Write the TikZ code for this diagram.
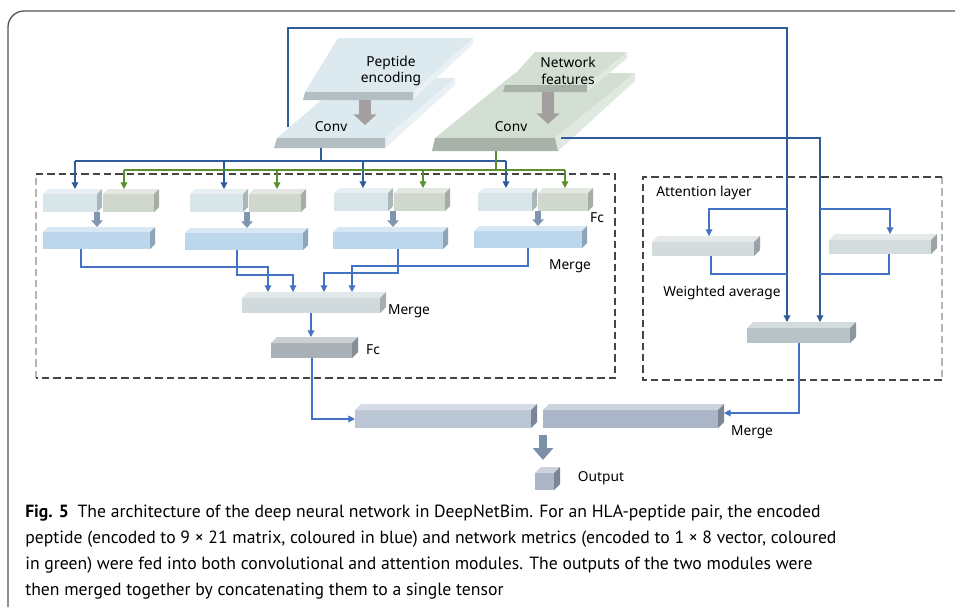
\documentclass[tikz,border=0pt]{standalone}
\usepackage{fontspec}
\setmainfont{Noto Sans}
\newfontfamily\capfont{PT Sans}
\usetikzlibrary{calc,arrows.meta,fit}
\definecolor{pepface}{HTML}{DCE9EE}
\definecolor{pepstrip}{HTML}{B3BEC3}
\definecolor{pepside}{HTML}{E9F1F4}
\definecolor{netface}{HTML}{D3DFD2}
\definecolor{netstrip}{HTML}{A9B2A8}
\definecolor{netside}{HTML}{E0E9DF}
\definecolor{bsmall}{HTML}{D8E5E9}
\definecolor{bsmallside}{HTML}{AAB6BA}
\definecolor{gsmall}{HTML}{D0D7CD}
\definecolor{gsmallside}{HTML}{A6ADA3}
\definecolor{bigblue}{HTML}{BCD6EC}
\definecolor{bigblueside}{HTML}{8DA4B9}
\definecolor{mface}{HTML}{D0D9DC}
\definecolor{mside}{HTML}{A4AEB1}
\definecolor{fcface}{HTML}{A9B0B6}
\definecolor{fcside}{HTML}{868D93}
\definecolor{attface}{HTML}{D4DBDC}
\definecolor{attside}{HTML}{9AA3A5}
\definecolor{waface}{HTML}{B7C3C7}
\definecolor{waside}{HTML}{8B979B}
\definecolor{mlface}{HTML}{BCC7D5}
\definecolor{mrface}{HTML}{AAB6C7}
\definecolor{mrside}{HTML}{7B8596}
\definecolor{darkblue}{HTML}{2F5B9A}
\definecolor{lineblue}{HTML}{4472C4}
\definecolor{linegreen}{HTML}{5A8F2E}
\definecolor{sarrow}{HTML}{8295B0}
\definecolor{garrow}{HTML}{A49F9F}
\definecolor{barrow}{HTML}{7D90A9}
\definecolor{frame}{HTML}{555555}
\definecolor{dashc}{HTML}{454545}
\definecolor{dashl}{HTML}{B5B5B5}
\newcommand\cuboid[8]{%
  \node[fit={(#2,#3) (#4,#5)}, inner sep=0pt, outer sep=0pt] (#1) {};
  \fill[#7] ($(#1.north west)+(0,#6)$) rectangle ($(#1.south east)+(-#6,0)$);
  \fill[#7!60!white] ($(#1.north west)+(0,#6)$) -- ($(#1.north west)+(#6,0)$) -- (#1.north east) -- ($(#1.north east)+(-#6,#6)$) -- cycle;
  \fill[#8] ($(#1.north east)+(-#6,#6)$) -- (#1.north east) -- ($(#1.south east)+(0,-#6)$) -- ($(#1.south east)+(-#6,0)$) -- cycle;
}
\begin{document}
\begin{tikzpicture}[x=0.75pt,y=-0.75pt,
  dk/.style={draw=darkblue,line width=0.95pt},
  dg/.style={draw=linegreen,line width=0.95pt},
  ln/.style={draw=lineblue,line width=0.85pt},
  tip/.style={-{Triangle[width=5pt,length=5pt]}},
  sarr/.style={draw=sarrow,line width=5.2pt,-{Triangle[width=8.5pt,length=5pt]}},
  garr/.style={draw=garrow,line width=9.5pt,-{Triangle[width=17pt,length=8pt]}},
  barr/.style={draw=barrow,line width=6.5pt,-{Triangle[width=15pt,length=9pt]}},
  lbl/.style={font=\fontsize{10.3pt}{11.5pt}\selectfont,inner sep=0pt},
  captxt/.style={font=\capfont\fontsize{13.25pt}{15pt}\selectfont,inner sep=0pt,anchor=base west},
  dbox/.style={draw=dashc,line width=1pt,dash pattern=on 5.5pt off 3pt},
  dboxl/.style={draw=dashl,line width=0.9pt,dash pattern=on 5.5pt off 3pt}]
\useasboundingbox (0,0) rectangle (955,607);
\fill[white] (0,0) rectangle (955,607);
% outer frame
\draw[frame,line width=1pt,rounded corners=12pt] (8,607) -- (8,11) -- (955,11);

% ---- top plates
% peptide lower
\fill[pepface] (277,138) -- (385,138) -- (455,78) -- (347,78) -- cycle;
\fill[pepside] (385,138) -- (455,78) -- (455,85) -- (385,148) -- cycle;
\fill[pepstrip] (277,138) -- (385,138) -- (385,148) -- (274,148) -- cycle;
% peptide upper
\fill[pepface] (305,92) -- (413,92) -- (473,38) -- (338,38) -- cycle;
\fill[pepside] (413,92) -- (473,38) -- (473,44) -- (413,100) -- cycle;
\fill[pepstrip] (305,92) -- (413,92) -- (413,100) -- (303,100) -- cycle;
% network lower
\fill[netface] (435,138) -- (555,138) -- (635,73) -- (515,73) -- cycle;
\fill[netside] (555,138) -- (635,73) -- (635,81) -- (558,151) -- cycle;
\fill[netstrip] (435,138) -- (555,138) -- (558,151) -- (432,151) -- cycle;
% network upper
\fill[netface] (505,85) -- (587,85) -- (627,52) -- (535,52) -- cycle;
\fill[netside] (587,85) -- (627,52) -- (627,58) -- (587,92) -- cycle;
\fill[netstrip] (505,85) -- (587,85) -- (587,92) -- (503,92) -- cycle;

\coordinate (pupB) at (365,100);
\coordinate (pcnvT) at (365,125);
\coordinate (nupB) at (548,92);
\coordinate (ncnvT) at (548,124);
\draw[garr] (pupB) -- (pcnvT);
\draw[garr] (nupB) -- (ncnvT);

\node[lbl,align=center] (tpep) at (391,71) {Peptide\\[1pt]encoding};
\node[lbl,align=center] (tnet) at (568,71) {Network\\[1pt]features};
\node[lbl] (tconv1) at (331,127) {Conv};
\node[lbl] (tconv2) at (511,127) {Conv};

% ---- dashed boxes
\draw[dboxl] (36,378) -- (36,174);
\draw[dbox] (36,174) -- (615,174) -- (615,378) -- (36,378);
\draw[dboxl] (942,177) -- (942,380);
\draw[dbox] (942,177) -- (643,177) -- (643,380) -- (942,380);

% ---- row 1
\cuboid{b1}{43}{189}{102}{212}{5}{bsmall}{bsmallside}
\cuboid{g1}{103}{189}{159}{212}{5}{gsmall}{gsmallside}
\cuboid{b2}{190}{189}{248}{212}{5}{bsmall}{bsmallside}
\cuboid{g2}{249}{189}{306}{212}{5}{gsmall}{gsmallside}
\cuboid{b3}{334}{188}{393}{211}{5}{bsmall}{bsmallside}
\cuboid{g3}{394}{188}{450}{211}{5}{gsmall}{gsmallside}
\cuboid{b4}{478}{188}{537}{211}{5}{bsmall}{bsmallside}
\cuboid{g4}{538}{188}{593}{211}{5}{gsmall}{gsmallside}
% ---- row 2
\cuboid{r1}{43}{227}{155}{249}{5}{bigblue}{bigblueside}
\cuboid{r2}{185}{228}{308}{250}{5}{bigblue}{bigblueside}
\cuboid{r3}{333}{227}{448}{249}{5}{bigblue}{bigblueside}
\cuboid{r4}{474}{226}{587}{248}{5}{bigblue}{bigblueside}
% ---- middle
\cuboid{m1}{242}{292}{386}{313}{6}{mface}{mside}
\cuboid{fc}{271}{337}{358}{358}{6}{fcface}{fcside}
% ---- attention
\cuboid{a1}{652}{236}{760}{256}{6}{attface}{attside}
\cuboid{a2}{829}{234}{937}{254}{6}{attface}{attside}
\cuboid{wa}{747}{322}{856}{343}{6}{waface}{waside}
% ---- bottom
\cuboid{ml}{355}{404}{537}{428}{6}{mlface}{mrside}
\cuboid{mr}{543}{404}{724}{428}{6}{mrface}{mrside}
\cuboid{out}{535}{467}{560}{490}{6}{mrface}{mrside}

% ---- labels
\node[lbl] (tfc1) at (597,218) {Fc};
\node[lbl] (tmg1) at (570,266) {Merge};
\node[lbl] (tmg2) at (409,311) {Merge};
\node[lbl] (tfc2) at (373,350) {Fc};
\node[lbl] (tatt) at (704,193) {Attention layer};
\node[lbl] (twa) at (722,293) {Weighted average};
\node[lbl] (tmg3) at (752,432) {Merge};
\node[lbl] (tout) at (601,478) {Output};

% ---- small arrows row1 -> row2
\foreach \n/\m/\x in {b1/r1/97,b2/r2/247,b3/r3/393,b4/r4/538}{
  \coordinate (sa) at (\x,212);
  \draw[sarr] (sa |- \n.south) -- (sa |- \m.north);
}

% ---- blue bus
\coordinate (pB) at (321,148);
\coordinate (busB) at (321,161);
\coordinate (busBL) at (75,161);
\coordinate (busBR) at (506,161);
\draw[dk] (pB) -- (busB);
\draw[dk] (busBL) -- (busBR);
\foreach \n/\x in {b1/75,b2/224,b3/363,b4/506}{
  \coordinate (bj) at (\x,161);
  \draw[dk,tip] (bj) -- (bj |- \n.north);
}
% ---- green bus
\coordinate (nB) at (496,151);
\coordinate (busG) at (496,170);
\coordinate (busGL) at (124,170);
\coordinate (busGR) at (565,170);
\draw[dg] (nB) -- (busG);
\draw[dg] (busGL) -- (busGR);
\foreach \n/\x in {g1/124,g2/277,g3/423,g4/565}{
  \coordinate (gj) at (\x,170);
  \draw[dg,tip] (gj) -- (gj |- \n.north);
}

% ---- row2 -> merge
\coordinate (c1a) at (81,267);  \coordinate (c1b) at (268,267);
\coordinate (c2a) at (237,275); \coordinate (c2b) at (293,275);
\coordinate (c3a) at (398,273); \coordinate (c3b) at (324,273);
\coordinate (c4a) at (528,266); \coordinate (c4b) at (352,266);
\draw[ln,tip] (c1a |- r1.south) -- (c1a) -- (c1b) -- (c1b |- m1.north);
\draw[ln,tip] (c2a |- r2.south) -- (c2a) -- (c2b) -- (c2b |- m1.north);
\draw[ln,tip] (c3a |- r3.south) -- (c3a) -- (c3b) -- (c3b |- m1.north);
\draw[ln,tip] (c4a |- r4.south) -- (c4a) -- (c4b) -- (c4b |- m1.north);
% merge -> fc
\coordinate (c5) at (311,320);
\draw[ln,tip] (c5 |- m1.south) -- (c5 |- fc.north);
% fc -> bottom merge
\coordinate (c6) at (312,419);
\draw[ln,tip] (c6 |- fc.south) -- (c6) -- (c6 -| ml.west);

% ---- attention paths
\coordinate (pL) at (288,127);
\coordinate (t1) at (288,28);
\coordinate (t2) at (787,28);
\draw[dk,tip] (pL) -- (t1) -- (t2) -- (t2 |- wa.north);
\coordinate (t3) at (787,209); \coordinate (t4) at (709,209);
\draw[ln,tip] (t3) -- (t4) -- (t4 |- a1.north);
\coordinate (t5) at (711,274);
\draw[ln] (t5 |- a1.south) -- (t5) -- (t5 -| t2);

\coordinate (nR) at (561,138);
\coordinate (u1) at (820,138);
\draw[dk,tip] (nR) -- (u1) -- (u1 |- wa.north);
\coordinate (u2) at (820,209); \coordinate (u3) at (890,209);
\draw[ln,tip] (u2) -- (u3) -- (u3 |- a2.north);
\coordinate (u4) at (889,274);
\draw[ln] (u4 |- a2.south) -- (u4) -- (u4 -| u1);

% weighted -> bottom merge
\coordinate (c7) at (799,413);
\draw[ln,tip] (c7 |- wa.south) -- (c7) -- (c7 -| mr.east);

% big output arrow
\coordinate (c8) at (543,435);
\draw[barr] (c8) -- ([yshift=5.25pt]c8 |- out.north);

% ---- caption
\node[captxt] (cap1) at (25,517) {\textbf{Fig. 5}\enspace The architecture of the deep neural network in DeepNetBim. For an HLA-peptide pair, the encoded};
\node[captxt] (cap2) at (25,543) {peptide (encoded to 9 × 21 matrix, coloured in blue) and network metrics (encoded to 1 × 8 vector, coloured};
\node[captxt] (cap3) at (25,569) {in green) were fed into both convolutional and attention modules. The outputs of the two modules were};
\node[captxt] (cap4) at (25,595) {then merged together by concatenating them to a single tensor};
\end{tikzpicture}
\end{document}
